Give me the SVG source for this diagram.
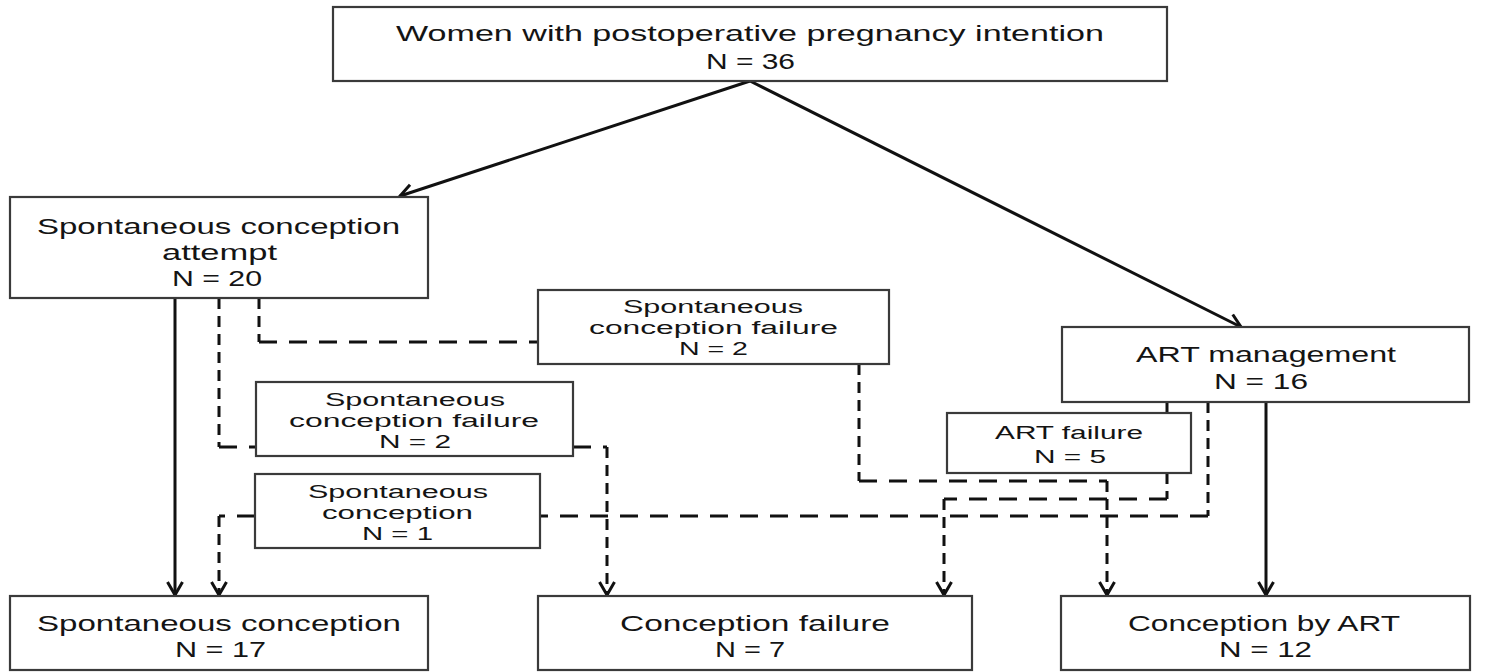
<svg xmlns="http://www.w3.org/2000/svg" width="1495" height="672" viewBox="0 0 1495 672">
<style>
.box{fill:#ffffff;stroke:#3a3a3a;stroke-width:2.2}
.t{font-family:"Liberation Sans",Arial,sans-serif;font-size:22px;fill:#141414}
.s{font-family:"Liberation Sans",Arial,sans-serif;font-size:18px;fill:#141414}
.solid{fill:none;stroke:#111;stroke-width:3}
.dh{fill:none;stroke:#111;stroke-width:3;stroke-dasharray:18 12}
.dv{fill:none;stroke:#111;stroke-width:3;stroke-dasharray:11 7}
</style>
<defs>
<marker id="arr" markerUnits="userSpaceOnUse" markerWidth="20" markerHeight="20" viewBox="0 0 20 20" refX="16" refY="10" orient="auto">
<path d="M3,2.5 L16,10 L3,17.5" fill="none" stroke="#111" stroke-width="3"/>
</marker>
</defs>
<rect width="1495" height="672" fill="#ffffff"/>

<g id="connectors">
<path class="solid" d="M750,81 L400,196" marker-end="url(#arr)"/>
<path class="solid" d="M750,81 L1241,327" marker-end="url(#arr)"/>
<path class="solid" d="M175,298 L175,595" marker-end="url(#arr)"/>
<path class="solid" d="M1266,402 L1266,595" marker-end="url(#arr)"/>
<path class="dv" d="M219,298 V447"/>
<path class="dh" d="M219,447 H256"/>
<path class="dv" d="M259,298 V342"/>
<path class="dh" d="M259,342 H538"/>
<path class="dh" d="M573,447 H607"/>
<path class="dv" d="M607,447 V595" marker-end="url(#arr)"/>
<path class="dh" d="M255,516 H219"/>
<path class="dv" d="M219,516 V595" marker-end="url(#arr)"/>
<path class="dv" d="M1208,402 V516"/>
<path class="dh" d="M1208,516 H540"/>
<path class="dv" d="M859,364 V481"/>
<path class="dh" d="M859,481 H1107"/>
<path class="dv" d="M1107,481 V595" marker-end="url(#arr)"/>
<path class="dv" d="M1167,402 V413"/>
<path class="dv" d="M1167,473 V499"/>
<path class="dh" d="M1167,499 H944"/>
<path class="dv" d="M944,499 V595" marker-end="url(#arr)"/>
</g>

<g id="n-top">
<rect class="box" x="333" y="7" width="834" height="74"/>
<text class="t" x="396" y="41" textLength="708" lengthAdjust="spacingAndGlyphs">Women with postoperative pregnancy intention</text>
<text class="t" x="706" y="69" textLength="89" lengthAdjust="spacingAndGlyphs">N = 36</text>
</g>

<g id="n-attempt">
<rect class="box" x="10" y="197" width="418" height="101"/>
<text class="t" x="37" y="234" textLength="363" lengthAdjust="spacingAndGlyphs">Spontaneous conception</text>
<text class="t" x="162" y="260" textLength="115" lengthAdjust="spacingAndGlyphs">attempt</text>
<text class="t" x="172" y="286" textLength="90" lengthAdjust="spacingAndGlyphs">N = 20</text>
</g>

<g id="n-scf-upper">
<rect class="box" x="538" y="290" width="351" height="74"/>
<text class="s" x="623" y="313" textLength="180" lengthAdjust="spacingAndGlyphs">Spontaneous</text>
<text class="s" x="589" y="334" textLength="249" lengthAdjust="spacingAndGlyphs">conception failure</text>
<text class="s" x="679" y="355" textLength="69" lengthAdjust="spacingAndGlyphs">N = 2</text>
</g>

<g id="n-art">
<rect class="box" x="1062" y="327" width="407" height="75"/>
<text class="t" x="1136" y="362" textLength="260" lengthAdjust="spacingAndGlyphs">ART management</text>
<text class="t" x="1214" y="389" textLength="94" lengthAdjust="spacingAndGlyphs">N = 16</text>
</g>

<g id="n-scf-lower">
<rect class="box" x="256" y="382" width="317" height="74"/>
<text class="s" x="325" y="406" textLength="180" lengthAdjust="spacingAndGlyphs">Spontaneous</text>
<text class="s" x="289" y="427" textLength="250" lengthAdjust="spacingAndGlyphs">conception failure</text>
<text class="s" x="379" y="448" textLength="72" lengthAdjust="spacingAndGlyphs">N = 2</text>
</g>

<g id="n-art-failure">
<rect class="box" x="947" y="413" width="244" height="60"/>
<text class="s" x="995" y="439" textLength="148" lengthAdjust="spacingAndGlyphs">ART failure</text>
<text class="s" x="1034" y="463" textLength="72" lengthAdjust="spacingAndGlyphs">N = 5</text>
</g>

<g id="n-sc1">
<rect class="box" x="255" y="474" width="285" height="74"/>
<text class="s" x="308" y="498" textLength="180" lengthAdjust="spacingAndGlyphs">Spontaneous</text>
<text class="s" x="322" y="519" textLength="151" lengthAdjust="spacingAndGlyphs">conception</text>
<text class="s" x="362" y="540" textLength="71" lengthAdjust="spacingAndGlyphs">N = 1</text>
</g>

<g id="n-sc17">
<rect class="box" x="10" y="596" width="418" height="74"/>
<text class="t" x="37" y="631" textLength="364" lengthAdjust="spacingAndGlyphs">Spontaneous conception</text>
<text class="t" x="175" y="657" textLength="91" lengthAdjust="spacingAndGlyphs">N = 17</text>
</g>

<g id="n-cf7">
<rect class="box" x="538" y="596" width="434" height="74"/>
<text class="t" x="620" y="631" textLength="270" lengthAdjust="spacingAndGlyphs">Conception failure</text>
<text class="t" x="715" y="657" textLength="70" lengthAdjust="spacingAndGlyphs">N = 7</text>
</g>

<g id="n-art12">
<rect class="box" x="1061" y="596" width="409" height="74"/>
<text class="t" x="1128" y="631" textLength="272" lengthAdjust="spacingAndGlyphs">Conception by ART</text>
<text class="t" x="1219" y="657" textLength="93" lengthAdjust="spacingAndGlyphs">N = 12</text>
</g>
</svg>
